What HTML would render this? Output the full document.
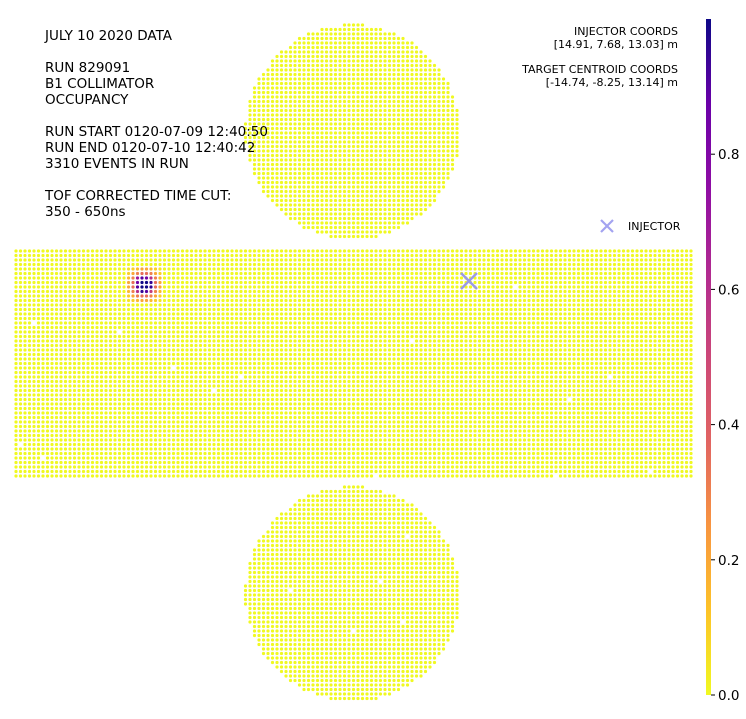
<!DOCTYPE html>
<html><head><meta charset="utf-8"><style>
body{margin:0;background:#fff;}
svg text{font-family:"DejaVu Sans","Liberation Sans",sans-serif;}
</style></head><body>
<svg id="chart" width="746" height="714" xmlns="http://www.w3.org/2000/svg">
<defs><linearGradient id="cbg" x1="0" y1="1" x2="0" y2="0">
<stop offset="0" stop-color="#f0f921"/><stop offset="0.125" stop-color="#fdc328"/><stop offset="0.25" stop-color="#f89540"/><stop offset="0.375" stop-color="#e16462"/><stop offset="0.5" stop-color="#cc4778"/><stop offset="0.625" stop-color="#b12a90"/><stop offset="0.75" stop-color="#8f0da4"/><stop offset="0.875" stop-color="#6a00a8"/><stop offset="1" stop-color="#0d0887"/></linearGradient></defs>
<g id="dots"></g>
<g font-size="13.5" fill="#000">
<text x="45" y="40">JULY 10 2020 DATA</text>
<text x="45" y="72">RUN 829091</text>
<text x="45" y="88">B1 COLLIMATOR</text>
<text x="45" y="104">OCCUPANCY</text>
<text x="45" y="136">RUN START 0120-07-09 12:40:50</text>
<text x="45" y="152">RUN END 0120-07-10 12:40:42</text>
<text x="45" y="168">3310 EVENTS IN RUN</text>
<text x="45" y="200">TOF CORRECTED TIME CUT:</text>
<text x="45" y="216">350 - 650ns</text>
</g>
<g font-size="11" text-anchor="end">
<text x="678" y="35">INJECTOR COORDS</text>
<text x="678" y="48">[14.91, 7.68, 13.03] m</text>
<text x="678" y="73">TARGET CENTROID COORDS</text>
<text x="678" y="86">[-14.74, -8.25, 13.14] m</text>
</g>
<g>
<path d="M601 220 L613 232 M613 220 L601 232" stroke="#a3a3f0" stroke-width="2.2"/>
<text x="628" y="230" font-size="11">INJECTOR</text>
</g>
<path d="M461 273 L477 289 M477 273 L461 289" stroke="#9a9ae6" stroke-width="2.4"/>
<g>
<rect x="706" y="19" width="5" height="676" fill="url(#cbg)"/>
<g id="cbticks" font-size="13.5"></g>
</g>
</svg>
<script>
const cbTicks=[0,0.2,0.4,0.6,0.8];
const hotCenterCol=29, hotCenterRow=7.5;
const hotValues=[
[0.05,0.1,0.15,0.2,0.2,0.15,0.1,0.05],
[0.1,0.2,0.3,0.35,0.35,0.3,0.2,0.1],
[0.15,0.3,0.7,0.9,0.85,0.6,0.3,0.15],
[0.2,0.35,0.85,1.0,1.0,0.95,0.35,0.2],
[0.2,0.35,0.9,1.0,1.0,0.95,0.35,0.2],
[0.15,0.3,0.6,0.95,0.9,0.55,0.3,0.15],
[0.1,0.2,0.3,0.35,0.35,0.3,0.2,0.1],
[0.05,0.1,0.15,0.2,0.2,0.15,0.1,0.05]];
const missingX=[33,119,173,239,212,414,517,611,570,22,41,377,555,652,381,409,292,405,352];
const missingY=[322,330,367,377,389,340,286,377,400,443,458,476,474,470,581,537,590,623,632];
const stops=[[0,[240,249,33]],[0.125,[253,195,40]],[0.25,[248,149,64]],[0.375,[225,100,98]],[0.5,[204,71,120]],[0.625,[177,42,144]],[0.75,[143,13,164]],[0.875,[106,0,168]],[1,[13,8,135]]];
function cmap(v){v=Math.max(0,Math.min(1,v));for(let i=1;i<stops.length;i++){if(v<=stops[i][0]){const a=stops[i-1],b=stops[i],t=(v-a[0])/(b[0]-a[0]);return 'rgb('+a[1].map((c,k)=>Math.round(c+(b[1][k]-c)*t)).join(',')+')';}}return 'rgb(13,8,135)';}
const cbY=v=>695-v*676;
const NS="http://www.w3.org/2000/svg";
const g=document.getElementById('dots');
const P=4.5, x0=16;
function missing(x,y){for(let i=0;i<missingX.length;i++){if(Math.abs(missingX[i]-x)<2.5&&Math.abs(missingY[i]-y)<2.5)return true;}return false;}
function dot(x,y,v){if(missing(x,y))return;const r=document.createElementNS(NS,'circle');
r.setAttribute('cx',x.toFixed(1));r.setAttribute('cy',y.toFixed(1));r.setAttribute('r',1.6);r.setAttribute('fill',cmap(v));


g.appendChild(r);}
for(let row=0;row<51;row++)for(let col=0;col<151;col++){
 let v=0;const hr=Math.round(row-hotCenterRow+3.5),hc=Math.round(col-hotCenterCol+3.5);
 if(hr>=0&&hr<8&&hc>=0&&hc<8)v=hotValues[hr][hc];
 dot(x0+col*P,251+row*P,v);}
function circle(cx,cy,R,ystart){for(let y=ystart;y<=cy+R;y+=P){for(let col=0;col<151;col++){const x=x0+col*P;if((x-cx)**2+(y-cy)**2<=R*R)dot(x,y,0);}}}
circle(352.5,132,107.5,25);
circle(352.5,594,107.5,487);
const tg=document.getElementById('cbticks');
cbTicks.forEach(t=>{const y=cbY(t);
const l=document.createElementNS(NS,'line');l.setAttribute('x1',711);l.setAttribute('x2',715);l.setAttribute('y1',y);l.setAttribute('y2',y);l.setAttribute('stroke','#000');


tg.appendChild(l);
const tx=document.createElementNS(NS,'text');tx.setAttribute('x',718);tx.setAttribute('y',y+5);tx.textContent=t.toFixed(1);


tg.appendChild(tx);});
</script>
</body></html>
